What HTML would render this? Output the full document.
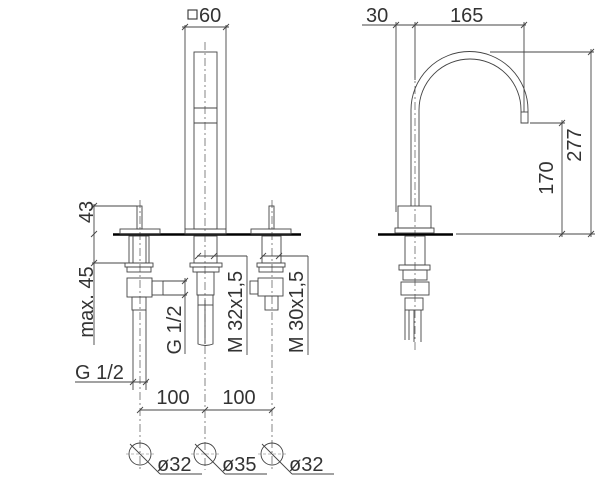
<!DOCTYPE html>
<html><head><meta charset="utf-8"><style>
html,body{margin:0;padding:0;background:#fff}
svg{display:block}
text{font-family:"Liberation Sans",sans-serif;fill:#333}
</style></head><body>
<svg width="600" height="483" viewBox="0 0 600 483" xmlns="http://www.w3.org/2000/svg">
<g stroke="#444" stroke-width="0.9" fill="none">
<g stroke-dasharray="8,3,2,3" stroke="#666" stroke-width="0.8">
<line x1="140" y1="200" x2="140" y2="470"/>
<line x1="205" y1="42" x2="205" y2="470"/>
<line x1="272" y1="200" x2="272" y2="470"/>
<line x1="415" y1="70" x2="415" y2="350"/>
</g>
<line x1="113" y1="234.5" x2="301" y2="234.5" stroke="#000" stroke-width="2.5"/>
<line x1="378" y1="234.5" x2="453" y2="234.5" stroke="#000" stroke-width="2.5"/>
<rect x="194" y="52" width="23" height="177"/>
<line x1="194" y1="108" x2="217" y2="108"/>
<line x1="194" y1="123" x2="217" y2="123"/>
<line x1="185" y1="25" x2="185" y2="229"/>
<line x1="226" y1="25" x2="226" y2="229"/>
<line x1="182" y1="27" x2="229" y2="27"/>
<line x1="182" y1="30" x2="188" y2="24"/><line x1="223" y1="30" x2="229" y2="24"/>
<rect x="120" y="229" width="40" height="5"/>
<rect x="185" y="229" width="41" height="5"/>
<rect x="251" y="229" width="40" height="5"/>
<rect x="137" y="206" width="5" height="23"/>
<rect x="269" y="206" width="5" height="23"/>
<line x1="94" y1="204" x2="94" y2="345"/>
<line x1="92" y1="206" x2="137" y2="206"/>
<line x1="92" y1="263" x2="128" y2="263"/>
<line x1="91" y1="209" x2="97" y2="203"/><line x1="91" y1="237" x2="97" y2="231"/><line x1="91" y1="266" x2="97" y2="260"/>
<rect x="129" y="236" width="20" height="27"/>
<line x1="133" y1="236" x2="133" y2="263"/><line x1="146" y1="236" x2="146" y2="263"/>
<rect x="125" y="263" width="28" height="4"/>
<rect x="127" y="267" width="24" height="5"/>
<rect x="127" y="278" width="25" height="19"/>
<rect x="152" y="281" width="11" height="14"/>
<rect x="132" y="297" width="14" height="13"/>
<line x1="133" y1="310" x2="133" y2="390"/><line x1="146" y1="310" x2="146" y2="390"/>
<line x1="75" y1="382" x2="148" y2="382"/>
<line x1="130" y1="385" x2="136" y2="379"/><line x1="143" y1="385" x2="149" y2="379"/>
<line x1="140" y1="410" x2="272" y2="410"/>
<line x1="137" y1="413" x2="143" y2="407"/><line x1="202" y1="413" x2="208" y2="407"/><line x1="269" y1="413" x2="275" y2="407"/>
<rect x="194" y="236" width="23" height="27"/>
<rect x="190" y="263" width="32" height="4"/>
<rect x="193" y="267" width="26" height="5"/>
<rect x="197" y="272" width="17" height="23"/>
<rect x="198" y="295" width="15" height="10"/>
<path d="M198 305 V344 Q205.5 347 213 344 V305"/>
<line x1="205" y1="300" x2="205" y2="344"/>
<line x1="163" y1="281" x2="187" y2="281"/>
<line x1="163" y1="295" x2="187" y2="295"/>
<line x1="185" y1="278" x2="185" y2="354"/>
<line x1="182" y1="284" x2="188" y2="278"/><line x1="182" y1="298" x2="188" y2="292"/>
<line x1="197" y1="256" x2="247" y2="256"/>
<line x1="247" y1="256" x2="247" y2="355"/>
<line x1="195" y1="259" x2="201" y2="253"/><line x1="211" y1="259" x2="217" y2="253"/>
<rect x="262" y="236" width="19" height="27"/>
<rect x="257" y="263" width="28" height="4"/>
<rect x="259" y="267" width="24" height="5"/>
<rect x="258" y="278" width="25" height="18"/>
<rect x="250" y="281" width="8" height="13"/>
<rect x="265" y="296" width="13" height="14"/>
<line x1="262" y1="256" x2="308" y2="256"/>
<line x1="308" y1="256" x2="308" y2="355"/>
<line x1="260" y1="259" x2="266" y2="253"/><line x1="276" y1="259" x2="282" y2="253"/>
<circle cx="140" cy="454" r="11"/>
<circle cx="205" cy="454" r="11"/>
<circle cx="272" cy="454" r="11"/>
<g stroke-width="0.6" stroke="#777" stroke-dasharray="3,2">
<line x1="126" y1="454" x2="154" y2="454"/><line x1="191" y1="454" x2="219" y2="454"/><line x1="258" y1="454" x2="286" y2="454"/>
</g>
<line x1="130" y1="444" x2="160" y2="474"/><line x1="160" y1="474" x2="202" y2="474"/>
<line x1="195" y1="444" x2="225" y2="474"/><line x1="225" y1="474" x2="267" y2="474"/>
<line x1="262" y1="444" x2="292" y2="474"/><line x1="292" y1="474" x2="334" y2="474"/>
<path d="M411 206 V110 A58.5 58.5 0 0 1 528 110 V123 H521 V110 A50.5 50.5 0 0 0 419 110 V206"/>
<line x1="521" y1="112" x2="528" y2="112"/>
<rect x="398" y="206" width="33" height="22"/>
<rect x="395" y="228" width="39" height="5"/>
<rect x="405" y="236" width="20" height="29"/>
<rect x="399" y="265" width="31" height="5"/>
<rect x="403" y="270" width="24" height="10"/>
<rect x="401" y="282" width="28" height="13"/>
<rect x="405" y="298" width="18" height="12"/>
<line x1="405" y1="310" x2="405" y2="340"/><line x1="409" y1="310" x2="409" y2="340"/>
<line x1="414" y1="310" x2="414" y2="342"/><line x1="421" y1="310" x2="421" y2="342"/>
<line x1="362" y1="25" x2="526" y2="25"/>
<line x1="396" y1="22" x2="396" y2="212"/>
<line x1="415" y1="22" x2="415" y2="80"/>
<line x1="524" y1="22" x2="524" y2="112"/>
<line x1="393" y1="28" x2="399" y2="22"/><line x1="412" y1="28" x2="418" y2="22"/><line x1="521" y1="28" x2="527" y2="22"/>
<line x1="490" y1="52" x2="594" y2="52"/>
<line x1="530" y1="123" x2="565" y2="123"/>
<line x1="456" y1="234" x2="595" y2="234"/>
<line x1="562" y1="120" x2="562" y2="237"/>
<line x1="591" y1="49" x2="591" y2="237"/>
<line x1="559" y1="126" x2="565" y2="120"/><line x1="559" y1="237" x2="565" y2="231"/>
<line x1="588" y1="55" x2="594" y2="49"/><line x1="588" y1="237" x2="594" y2="231"/>
</g>
<g font-size="20">
<rect x="188" y="10" width="9" height="9" fill="none" stroke="#333" stroke-width="1.1"/>
<text x="199" y="22">60</text>
<text x="366" y="22">30</text>
<text x="450" y="22">165</text>
<text transform="translate(553,178) rotate(-90)" text-anchor="middle">170</text>
<text transform="translate(581,145) rotate(-90)" text-anchor="middle">277</text>
<text transform="translate(93,212) rotate(-90)" text-anchor="middle">43</text>
<text transform="translate(93,302) rotate(-90)" text-anchor="middle">max. 45</text>
<text x="75" y="379">G 1/2</text>
<text transform="translate(181,330) rotate(-90)" text-anchor="middle">G 1/2</text>
<text transform="translate(242,312) rotate(-90)" text-anchor="middle">M 32x1,5</text>
<text transform="translate(303,312) rotate(-90)" text-anchor="middle">M 30x1,5</text>
<text x="173" y="404" text-anchor="middle">100</text>
<text x="239" y="404" text-anchor="middle">100</text>
<text x="157" y="471">ø32</text>
<text x="222" y="471">ø35</text>
<text x="289" y="471">ø32</text>
</g>
</svg>
</body></html>
